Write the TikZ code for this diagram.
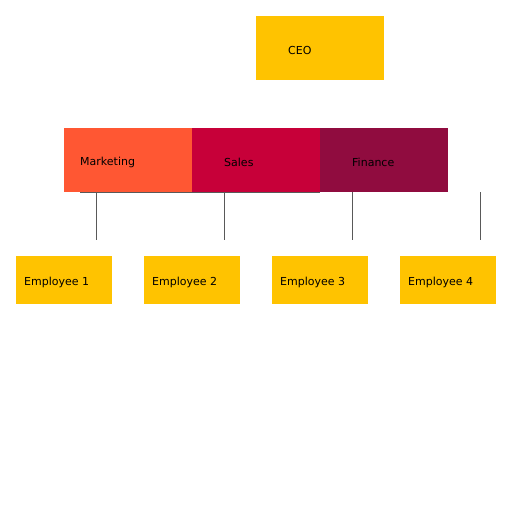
\documentclass[tikz,border=0pt]{standalone}
\usepackage{fontspec}
\setmainfont{DejaVu Sans}
\begin{document}
\begin{tikzpicture}[x=1pt,y=-1pt,
  box/.style={draw=none,inner sep=0pt},
  lbl/.style={anchor=west,inner sep=0pt,font=\fontsize{11}{13}\selectfont},
  conn/.style={draw=black!65,line width=1pt}]
\useasboundingbox (0,0) rectangle (512,512);
\definecolor{ceo}{HTML}{FFC300}
\definecolor{mkt}{HTML}{FF5733}
\definecolor{sal}{HTML}{C70039}
\definecolor{fin}{HTML}{900C3F}
\fill[ceo] (256,16) rectangle (384,80);
\node[lbl] (ceo) at (288,50) {CEO};
\fill[mkt] (64,128) rectangle (192,192);
\fill[sal] (192,128) rectangle (320,192);
\fill[fin] (320,128) rectangle (448,192);
\node[lbl] (m) at (80,162) {Marketing};
\node[lbl] (s) at (224,162) {Sales};
\node[lbl] (f) at (352,162) {Finance};
\foreach \i/\x in {1/16,2/144,3/272,4/400}{
  \fill[ceo] (\x,256) rectangle (\x+96,304);
  \node[lbl] (e\i) at (\x+8,282) {Employee \i};
}
\coordinate (h1) at (80,192); \coordinate (h2) at (320,192);
\draw[conn] (h1) -- (h2);
\foreach \x in {96,224,352,480}{
  \coordinate (t\x) at (\x,192); \coordinate (b\x) at (\x,240);
  \draw[conn] (t\x) -- (b\x);
}
\end{tikzpicture}
\end{document}
